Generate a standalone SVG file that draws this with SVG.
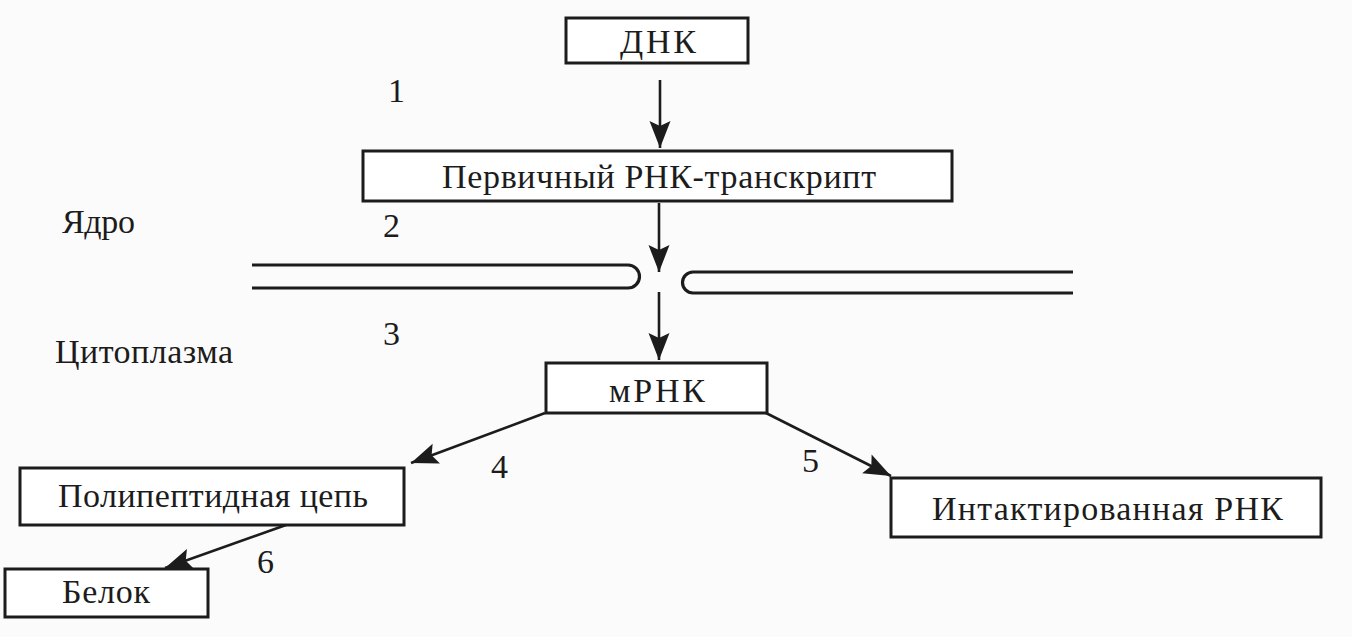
<svg xmlns="http://www.w3.org/2000/svg" width="1352" height="637" viewBox="0 0 1352 637">
<style>
.box{fill:#ffffff;stroke:#1c1c1c;stroke-width:3}
.c{text-anchor:middle}
.ln{stroke:#1c1c1c;stroke-width:2.6;fill:none}
.mem{stroke:#1c1c1c;stroke-width:3.2;fill:none}
text{font-family:"Liberation Serif","Times New Roman",Times,serif;font-size:34px;fill:#1c1c1c}
</style>
<defs>
<marker id="ah" markerUnits="userSpaceOnUse" markerWidth="30" markerHeight="26" viewBox="-28 -13 30 26" refX="0" refY="0" orient="auto">
<path d="M0,0 L-27,-10.5 L-22,0 L-27,10.5 Z" fill="#1c1c1c"/>
</marker>
</defs>
<rect width="1352" height="637" fill="#fbfbfb"/>

<g id="membrane">
<path class="mem" d="M252 265 H628 A11.5 11.5 0 0 1 628 288 H252"/>
<path class="mem" d="M1073 272 H693 A10.5 10.5 0 0 0 693 293 H1073"/>
</g>

<g id="connectors">
<line class="ln" x1="660" y1="80" x2="660" y2="148" marker-end="url(#ah)"/>
<line class="ln" x1="659" y1="203" x2="659" y2="272" marker-end="url(#ah)"/>
<line class="ln" x1="659" y1="292" x2="659" y2="360" marker-end="url(#ah)"/>
<line class="ln" x1="545" y1="413" x2="411" y2="463" marker-end="url(#ah)"/>
<line class="ln" x1="766" y1="413" x2="891" y2="476" marker-end="url(#ah)"/>
<line class="ln" x1="286" y1="525" x2="165" y2="568" marker-end="url(#ah)"/>
<text x="388" y="102">1</text>
<text x="383" y="237">2</text>
<text x="383" y="345">3</text>
<text x="491" y="478">4</text>
<text x="802" y="472">5</text>
<text x="257" y="573">6</text>
</g>

<g id="dna">
<rect class="box" x="566" y="18" width="182" height="45"/>
<text x="620" y="53" textLength="76">ДНК</text>
</g>
<g id="primary">
<rect class="box" x="363" y="151" width="589" height="50"/>
<text x="442" y="188" textLength="434">Первичный РНК-транскрипт</text>
</g>
<g id="nucleus-label">
<text x="62" y="233" textLength="73">Ядро</text>
</g>
<g id="cytoplasm-label">
<text x="55" y="363" textLength="178">Цитоплазма</text>
</g>
<g id="mrna">
<rect class="box" x="546" y="363" width="221" height="50"/>
<text x="609" y="402" textLength="96">мРНК</text>
</g>
<g id="polypeptide">
<rect class="box" x="20" y="468" width="384" height="57"/>
<text x="58" y="507" textLength="310">Полипептидная цепь</text>
</g>
<g id="protein">
<rect class="box" x="5" y="569" width="203" height="48"/>
<text x="62" y="603" textLength="88">Белок</text>
</g>
<g id="intact">
<rect class="box" x="891" y="478" width="430" height="59"/>
<text x="932" y="520" textLength="351">Интактированная РНК</text>
</g>
</svg>
